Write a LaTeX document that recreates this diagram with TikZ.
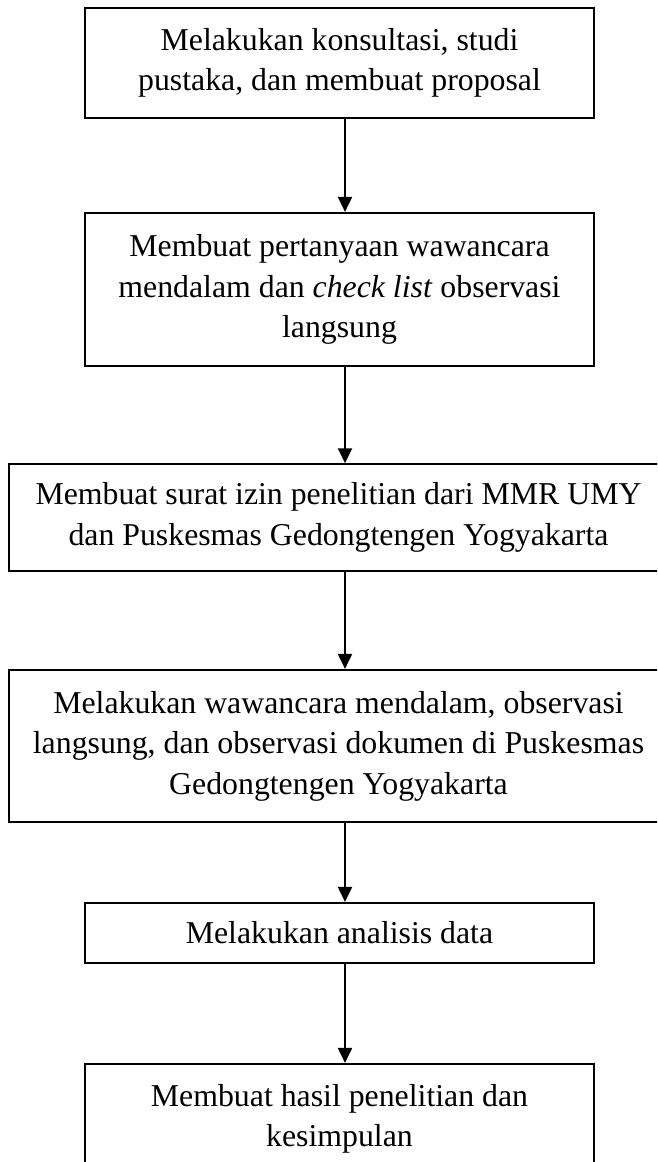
\documentclass[tikz,border=0pt]{standalone}
\usepackage{fontspec}
\setmainfont{Liberation Serif}
\usetikzlibrary{arrows.meta}
\begin{document}
\begin{tikzpicture}[x=1pt,y=-1pt,
  stepbox/.style={draw,line width=2.2pt,inner sep=0pt,align=center,
    font=\fontsize{31.8}{40.5}\selectfont},
  flow/.style={line width=2pt,-{Triangle[width=14pt,length=15pt]}}]
\useasboundingbox (0,0) rectangle (657,1162);
\clip (0,0) rectangle (657,1162);
\node[stepbox,minimum width=509pt,minimum height=110pt] (b1) at (339.5,63)
  {Melakukan konsultasi, studi\\pustaka, dan membuat proposal};
\node[stepbox,minimum width=509pt,minimum height=153pt] (b2) at (339.5,289.5)
  {Membuat pertanyaan wawancara\\mendalam dan \textit{check list} observasi\\langsung};
\node[stepbox,line width=1.5pt,minimum width=659pt,minimum height=107pt] (b3) at (338.5,517.5)
  {Membuat surat izin penelitian dari MMR UMY\\dan Puskesmas Gedongtengen Yogyakarta};
\node[stepbox,minimum width=659pt,minimum height=152pt] (b4) at (338.5,746)
  {Melakukan wawancara mendalam, observasi\\langsung, dan observasi dokumen di Puskesmas\\Gedongtengen Yogyakarta};
\node[stepbox,minimum width=509pt,minimum height=60pt] (b5) at (339.5,933)
  {Melakukan analisis data};
\node[stepbox,minimum width=509pt,minimum height=110pt] (b6) at (339.5,1119)
  {Membuat hasil penelitian dan\\kesimpulan};
\coordinate (ax) at (345,0);
\draw[flow] (b1.south -| ax) -- (b2.north -| ax);
\draw[flow] (b2.south -| ax) -- (b3.north -| ax);
\draw[flow] (b3.south -| ax) -- (b4.north -| ax);
\draw[flow] (b4.south -| ax) -- (b5.north -| ax);
\draw[flow] (b5.south -| ax) -- (b6.north -| ax);
\end{tikzpicture}
\end{document}
